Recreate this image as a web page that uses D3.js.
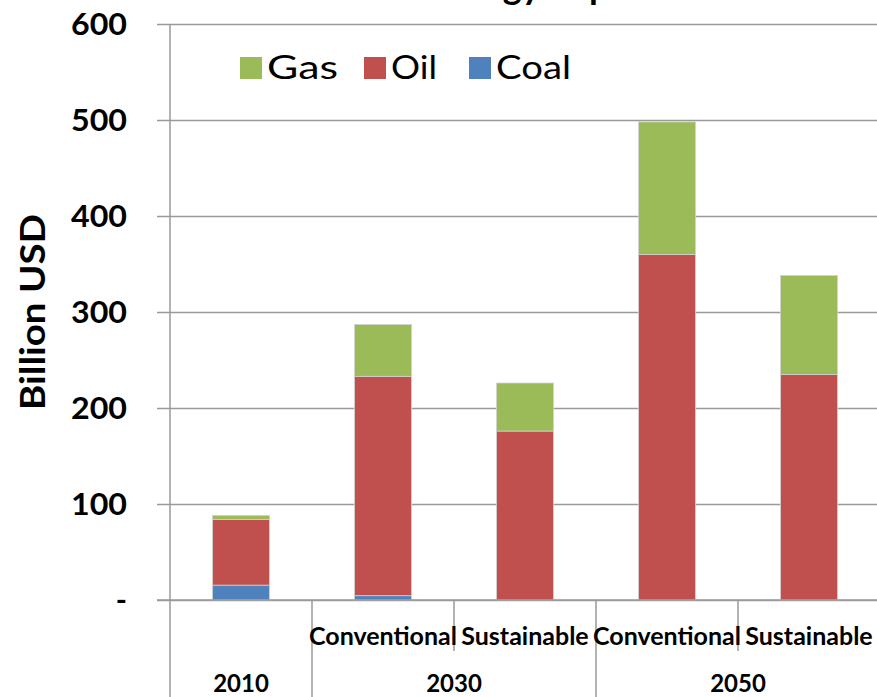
<!DOCTYPE html>
<html>
<head>
<meta charset="utf-8">
<script src="https://cdn.jsdelivr.net/npm/d3@7/dist/d3.min.js"></script>
<style>
  html, body { margin: 0; padding: 0; background: #fff; }
  svg { display: block; }
  text { font-family: Lato, "Open Sans", sans-serif; fill: #000; }
</style>
</head>
<body>
<svg id="chart" width="877" height="697"></svg>
<script>
// ---- data ----
const categories = ["2010", "2030 Conventional", "2030 Sustainable", "2050 Conventional", "2050 Sustainable"];
const scenarioLabels = ["", "Conventional", "Sustainable", "Conventional", "Sustainable"];
const years = ["2010", "2030", "2050"];
const yearSpans = [[0, 1], [1, 3], [3, 5]]; // category index ranges per year group
const seriesNames = ["Coal", "Oil", "Gas"];
const coal = [15.5, 4.5, 0, 0, 0];
const oil = [68.5, 228.5, 176, 360, 235];
const gas = [4, 54, 50, 138, 103];
const yTicks = [0, 100, 200, 300, 400, 500, 600];
const yTickLabels = ["-", "100", "200", "300", "400", "500", "600"];
const legendOrder = ["Gas", "Oil", "Coal"];
const colors = { Gas: "#9BBB59", Oil: "#C0504D", Coal: "#4F81BD" };
const titleText = "Chinese Energy Imports";
const yAxisTitle = "Billion USD";

// ---- layout ----
const svg = d3.select("#chart");
const plotLeft = 170, plotRight = 880, plotTop = 24, plotBottom = 600;
const gridColor = "#9a9a9a";

const x = d3.scaleBand().domain(categories).range([plotLeft, plotRight]).paddingInner(0.6).paddingOuter(0.3);
const y = d3.scaleLinear().domain([0, 600]).range([plotBottom, plotTop]);

const rows = categories.map((c, i) => ({ cat: c, Coal: coal[i], Oil: oil[i], Gas: gas[i] }));
const stacked = d3.stack().keys(seriesNames)(rows);

// title (mostly cut off at the top, as in the reference)
svg.append("text").attr("x", 483).attr("y", -1).attr("text-anchor", "middle")
  .style("font-weight", "bold").style("font-size", "36px").text(titleText);

// gridlines + ticks
const yAxis = d3.axisLeft(y).tickValues(yTicks).tickSize(-(plotRight - plotLeft)).tickSizeOuter(0)
  .tickFormat((d, i) => yTickLabels[i]).tickPadding(0);
const gy = svg.append("g").attr("transform", `translate(${plotLeft},0)`).call(yAxis);
gy.select(".domain").remove();
gy.selectAll(".tick line").attr("stroke", gridColor).attr("stroke-width", 1.5).attr("x1", -13);
gy.selectAll(".tick text").attr("x", -43).attr("dy", "0.36em")
  .style("font-weight", "bold").style("font-size", "30px").style("font-family", "Lato, sans-serif")
  .each(function (d, i) {
    if (yTickLabels[i].length === 3) d3.select(this).attr("textLength", 56).attr("lengthAdjust", "spacingAndGlyphs");
  });

// bars
svg.append("g").selectAll("g").data(stacked).join("g")
  .attr("fill", d => colors[d.key])
  .selectAll("rect").data(d => d).join("rect")
  .attr("x", d => x(d.data.cat))
  .attr("width", x.bandwidth())
  .attr("y", d => y(d[1]))
  .attr("height", d => Math.max(0, y(d[0]) - y(d[1])))
  .attr("stroke", d => (d[1] - d[0]) > 0 ? "#d0d0d0" : "none")
  .attr("stroke-width", 0.8);

// y axis line
svg.append("line").attr("x1", plotLeft).attr("x2", plotLeft).attr("y1", plotTop).attr("y2", 697)
  .attr("stroke", gridColor).attr("stroke-width", 1.5);
// x axis line
svg.append("line").attr("x1", plotLeft - 13).attr("x2", plotRight).attr("y1", plotBottom).attr("y2", plotBottom)
  .attr("stroke", gridColor).attr("stroke-width", 1.5);

// category dividers
const step = x.step();
categories.forEach((c, i) => {
  if (i === 0) return;
  const bx = x(c) - (step - x.bandwidth()) / 2;
  const isYearBoundary = yearSpans.some(s => s[0] === i);
  svg.append("line").attr("x1", bx).attr("x2", bx).attr("y1", plotBottom)
    .attr("y2", isYearBoundary ? 697 : 651)
    .attr("stroke", gridColor).attr("stroke-width", 1.5);
});

// scenario labels
svg.append("g").selectAll("text").data(categories).join("text")
  .attr("x", d => x(d) + x.bandwidth() / 2)
  .attr("y", 645)
  .attr("text-anchor", "middle")
  .style("font-weight", "bold").style("font-size", "25px")
  .text((d, i) => scenarioLabels[i]);

// year labels
svg.append("g").selectAll("text").data(years).join("text")
  .attr("x", (d, i) => {
    const s = yearSpans[i];
    const x0 = x(categories[s[0]]) - (step - x.bandwidth()) / 2;
    return x0 + (s[1] - s[0]) * step / 2;
  })
  .attr("y", 692)
  .attr("text-anchor", "middle")
  .style("font-weight", "bold").style("font-size", "24px")
  .text(d => d);

// y axis title
svg.append("text").attr("transform", "translate(45,312) rotate(-90)")
  .attr("text-anchor", "middle")
  .attr("textLength", 196).attr("lengthAdjust", "spacingAndGlyphs")
  .style("font-weight", "bold").style("font-size", "34px")
  .text(yAxisTitle);

// legend
const legendX = [240, 364, 469];
const legendTextLen = [71, 46, 75];
const lg = svg.append("g").selectAll("g").data(legendOrder).join("g")
  .attr("transform", (d, i) => `translate(${legendX[i]},57)`);
lg.append("rect").attr("width", 22).attr("height", 22).attr("fill", d => colors[d]);
lg.append("text").attr("x", 27).attr("y", 22).style("font-size", "33px")
  .attr("textLength", (d, i) => legendTextLen[i]).attr("lengthAdjust", "spacingAndGlyphs")
  .text(d => d);
</script>
</body>
</html>
